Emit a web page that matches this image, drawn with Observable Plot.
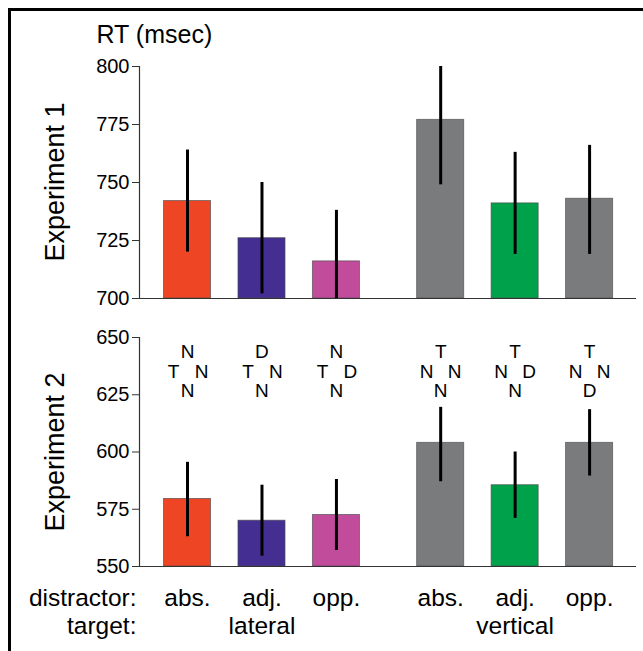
<!DOCTYPE html>
<html>
<head>
<meta charset="utf-8">
<script src="https://cdn.jsdelivr.net/npm/d3@7"></script>
<script src="https://cdn.jsdelivr.net/npm/@observablehq/plot@0.6"></script>
<style>
  html, body { margin: 0; padding: 0; background: #fff; }
  #wrap { position: relative; width: 643px; height: 651px; overflow: hidden; background: #fff;
          font-family: "Liberation Sans", Arial, Helvetica, sans-serif; }
  #frame { position: absolute; left: 8px; top: 8px; right: -10px; bottom: -10px;
           border-top: 3px solid #000; border-left: 3px solid #000; }
  .plot { position: absolute; left: 0; }
  .vlab { position: absolute; font-size: 27px; line-height: 1; white-space: nowrap; color: #000;
          transform: translate(-50%, -50%) rotate(-90deg); }
</style>
</head>
<body>
<div id="wrap"><div id="frame"></div></div>
<script>
// ---- data ----
const distractor = ["abs.", "adj.", "opp.", "abs.", "adj.", "opp."];
const target = ["lateral", "lateral", "lateral", "vertical", "vertical", "vertical"];
const colors = ["#EE4524", "#452E91", "#C04C9B", "#7A7B7D", "#00A14B", "#7A7B7D"];
const panelTitles = ["Experiment 1", "Experiment 2"];

const exp1Mean = [742, 726, 716, 777, 741, 743];
const exp1Low  = [720, 702, 700, 749, 719, 719];
const exp1High = [764, 750, 738, 800, 763, 766];

const exp2Mean = [579.5, 570, 572.5, 604, 585.5, 604];
const exp2Low  = [563, 554.5, 557, 587, 571, 589.5];
const exp2High = [595.5, 585.5, 588, 619.5, 600, 618.5];

// letter displays: top, left, right, bottom
const letTop    = ["N", "D", "N", "T", "T", "T"];
const letLeft   = ["T", "T", "T", "N", "N", "N"];
const letRight  = ["N", "N", "D", "N", "D", "N"];
const letBottom = ["N", "N", "N", "N", "N", "D"];

const exp1Ticks = [700, 725, 750, 775, 800];
const exp2Ticks = [550, 575, 600, 625, 650];

// ---- layout ----
const W = 643;
const groupGap = 0.4;
const halfBar = 0.316;
const xDomain = [-0.645, 6.03];
const pos = distractor.map((_, i) => i + (i >= 3 ? groupGap : 0));
const font = '"Liberation Sans", Arial, Helvetica, sans-serif';
const wrap = document.getElementById("wrap");

function rows(mean, low, high) {
  return distractor.map((d, i) => ({
    i, p: pos[i], mean: mean[i], low: low[i], high: high[i], color: colors[i],
    d, t: target[i],
    top: letTop[i], left: letLeft[i], right: letRight[i], bottom: letBottom[i]
  }));
}

function panel({data, ticks, top, height, marginTop, marginBottom, title, extra}) {
  const yDomain = [ticks[0], ticks[ticks.length - 1]];
  const svg = Plot.plot({
    width: W, height,
    marginLeft: 139, marginRight: 7, marginTop, marginBottom,
    style: {fontFamily: font, background: "transparent", overflow: "visible"},
    x: {domain: xDomain, axis: null},
    y: {domain: yDomain, ticks, label: null},
    marks: [
      Plot.axisY({ticks, tickSize: 7, tickPadding: 3, fontSize: 20, stroke: "#333", color: "#000",
                  label: null, tickFormat: d => d}),
      Plot.rect(data, {x1: d => d.p - halfBar, x2: d => d.p + halfBar, y1: yDomain[0], y2: "mean",
                       fill: "color", stroke: "#4a4a4a", strokeWidth: 0.9, strokeOpacity: 0.7}),
      Plot.ruleX(data, {x: "p", y1: "low", y2: "high", stroke: "#000", strokeWidth: 3}),
      Plot.ruleX([xDomain[0]], {stroke: "#333", strokeWidth: 1.2}),
      Plot.ruleY([yDomain[0]], {stroke: "#333", strokeWidth: 1.2}),
      ...extra(data)
    ]
  });
  svg.classList.add("plot");
  svg.style.top = top + "px";
  wrap.appendChild(svg);
  const lab = document.createElement("div");
  lab.className = "vlab";
  lab.textContent = title;
  lab.style.left = "55px";
  lab.style.top = (top + marginTop + (height - marginTop - marginBottom) / 2) + "px";
  wrap.appendChild(lab);
}

const T = {fill: "#000", lineAnchor: "middle"};

panel({
  data: rows(exp1Mean, exp1Low, exp1High), ticks: exp1Ticks, title: panelTitles[0],
  top: 0, height: 310, marginTop: 66, marginBottom: 12,
  extra: () => [
    Plot.text(["RT (msec)"], {...T, frameAnchor: "top-left", textAnchor: "start", dx: -43, dy: -32,
                              fontSize: 25})
  ]
});

panel({
  data: rows(exp2Mean, exp2Low, exp2High), ticks: exp2Ticks, title: panelTitles[1],
  top: 310, height: 341, marginTop: 27, marginBottom: 85,
  extra: (data) => [
    Plot.text(data, {...T, x: "p", text: "top", frameAnchor: "top", dy: 14.5, fontSize: 19}),
    Plot.text(data, {...T, x: "p", text: "left", frameAnchor: "top", dy: 34.5, dx: -14, fontSize: 19}),
    Plot.text(data, {...T, x: "p", text: "right", frameAnchor: "top", dy: 34.5, dx: 14, fontSize: 19}),
    Plot.text(data, {...T, x: "p", text: "bottom", frameAnchor: "top", dy: 53.5, fontSize: 19}),
    Plot.text(data, {...T, x: "p", text: "d", frameAnchor: "bottom", dy: 31.5, fontSize: 24.5}),
    Plot.text(data.filter(d => d.i === 1 || d.i === 4), {...T, x: "p", text: "t", frameAnchor: "bottom",
                                                         dy: 59.5, fontSize: 24.5}),
    Plot.text(["distractor:"], {...T, frameAnchor: "bottom-left", textAnchor: "end", dx: -3, dy: 31.5, fontSize: 24.5}),
    Plot.text(["target:"], {...T, frameAnchor: "bottom-left", textAnchor: "end", dx: -3, dy: 59.5, fontSize: 24.5})
  ]
});
</script>
</body>
</html>
